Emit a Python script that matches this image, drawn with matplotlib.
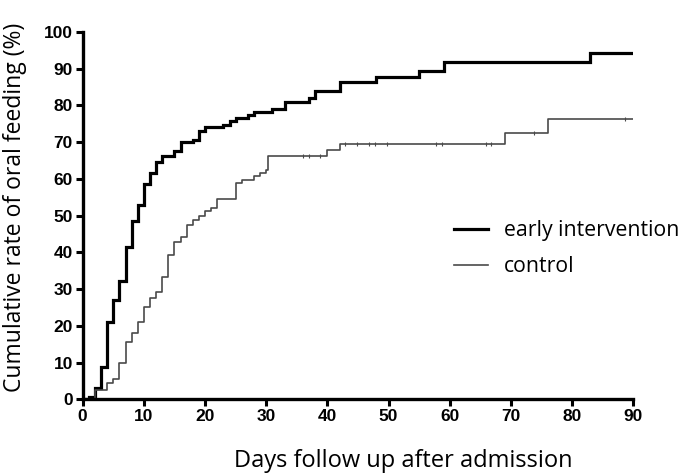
import numpy as np
import matplotlib
matplotlib.use("Agg")
import matplotlib.pyplot as plt

# Kaplan-Meier style cumulative curves (day of step, cumulative % after step)
early_days = [0, 1, 2, 3, 4, 5, 6, 7, 8, 9, 10, 11, 12, 13, 15, 16, 18, 19, 20,
              23, 24, 25, 27, 28, 31, 33, 37, 38, 42, 48, 55, 59, 83, 90]
early_pct = [0, 0.6, 3.0, 8.7, 21.0, 27.0, 32.2, 41.5, 48.5, 53.0, 58.5, 61.5,
             64.5, 66.2, 67.6, 70.0, 70.7, 73.1, 74.2, 74.7, 75.8, 76.5, 77.4,
             78.2, 79.1, 81.0, 81.9, 84.0, 86.5, 87.8, 89.4, 91.9, 94.4, 94.4]

ctrl_days = [0, 2, 4, 5, 6, 7, 8, 9, 10, 11, 12, 13, 14, 15, 16, 17, 18, 19, 20,
             21, 22, 25, 26, 28, 29, 30, 30.3, 40, 42, 69, 76, 90]
ctrl_pct = [0, 2.4, 4.5, 5.5, 10.0, 15.5, 18.0, 21.0, 25.0, 27.5, 29.2, 33.4,
            39.2, 42.8, 44.2, 47.5, 48.8, 50.0, 51.2, 52.2, 54.6, 59.0, 59.7,
            60.8, 61.5, 62.3, 66.2, 67.8, 69.4, 72.4, 76.3, 76.3]

# censored observations on the control curve
ctrl_censor = [36, 37, 38.8, 42.8, 44.9, 46.8, 47.8, 49.8, 57.7, 58.8, 65.9,
               66.8, 73.8, 88.7]

x_ticks = [0, 10, 20, 30, 40, 50, 60, 70, 80, 90]
y_ticks = [0, 10, 20, 30, 40, 50, 60, 70, 80, 90, 100]

label_font = "Open Sans"
tick_font = "Liberation Sans"

fig = plt.figure(figsize=(6.85, 4.74), dpi=100)
ax = fig.add_axes([0.1207, 0.1576, 0.9245 - 0.1207, 0.9325 - 0.1576])

ax.step(early_days, early_pct, where="post", color="black", lw=2.3,
        label="early intervention", solid_joinstyle="miter")
ax.step(ctrl_days, ctrl_pct, where="post", color="#4a4a4a", lw=1.2,
        label="control")

idx = np.searchsorted(ctrl_days, ctrl_censor, side="right") - 1
censor_pct = np.array(ctrl_pct)[idx]
ax.plot(ctrl_censor, censor_pct, ls="none", marker="|", ms=3, mew=0.8,
        color="#4a4a4a")

ax.set_xlim(0, 90)
ax.set_ylim(0, 100)
ax.set_xticks(x_ticks)
ax.set_yticks(y_ticks)
for side in ["top", "right"]:
    ax.spines[side].set_visible(False)
for side in ["left", "bottom"]:
    ax.spines[side].set_linewidth(2.4)
ax.tick_params(direction="out", length=5, width=2.2, pad=2)
for lab in ax.get_xticklabels() + ax.get_yticklabels():
    lab.set_fontfamily(tick_font)
    lab.set_fontweight("bold")
    lab.set_fontsize(12.5)

ax.set_xlabel("Days follow up after admission", fontfamily=label_font,
              fontsize=17)
ax.xaxis.set_label_coords(0.583, -0.135)
ax.set_ylabel("Cumulative rate of oral feeding (%)", fontfamily=label_font,
              fontsize=16.5)
ax.yaxis.set_label_coords(-0.102, 0.522)

ax.legend(loc="upper left", bbox_to_anchor=(454 / 685, 1 - 220 / 474),
          bbox_transform=fig.transFigure, frameon=False, borderpad=0,
          borderaxespad=0, handlelength=1.6, handletextpad=0.75,
          labelspacing=0.72, prop={"family": label_font, "size": 15.3})

fig.savefig("out.png", dpi=100)
